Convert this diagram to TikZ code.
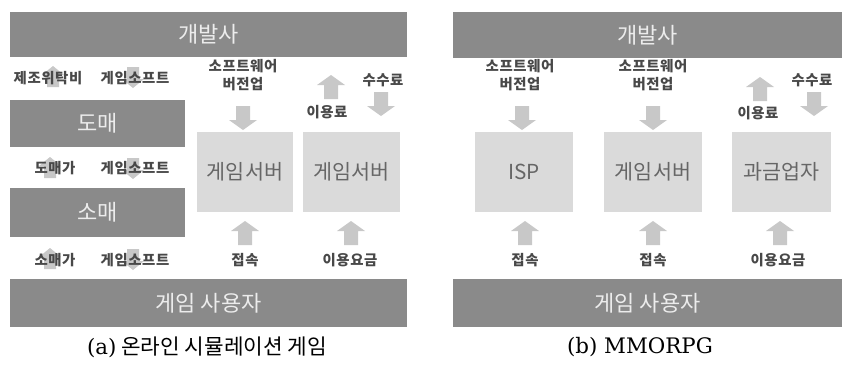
\documentclass[tikz,border=0pt]{standalone}
\usepackage{fontspec}
\newfontfamily\kr{Noto Sans CJK KR}
\newfontfamily\krl[LetterSpace=4]{Noto Sans CJK KR}
\newfontfamily\capserif{DejaVu Serif}
\definecolor{barfill}{HTML}{8A8A8A}
\definecolor{bartext}{HTML}{ECECEC}
\definecolor{boxfill}{HTML}{DADADA}
\definecolor{boxtext}{HTML}{666666}
\definecolor{arrfill}{HTML}{C8C8C8}
\definecolor{labtext}{HTML}{484848}
\begin{document}
\begin{tikzpicture}[x=0.75pt,y=-0.75pt,
  bar/.style={fill=barfill, draw=none, inner sep=0pt, text=bartext,
    font=\kr\fontsize{16.5}{19}\selectfont},
  sbox/.style={fill=boxfill, draw=none, inner sep=0pt, text=boxtext,
    minimum height={80*0.75pt}, font=\kr\fontsize{15.5}{18}\selectfont},
  lab/.style={text=labtext, inner sep=0pt, align=center,
    font=\krl\bfseries\fontsize{10.8}{13.5}\selectfont},
  captext/.style={text=black, inner sep=0pt, font=\kr\fontsize{16}{19}\selectfont},
  uparr/.pic={\fill[arrfill] (0,-12) -- (14,-2) -- (7,-2) -- (7,12) -- (-7,12) -- (-7,-2) -- (-14,-2) -- cycle;},
  dnarr/.pic={\fill[arrfill] (0,12) -- (14,2) -- (7,2) -- (7,-12) -- (-7,-12) -- (-7,2) -- (-14,2) -- cycle;},
  supa/.pic={\fill[arrfill] (0,-11) -- (11,-2) -- (6,-2) -- (6,10) -- (-6,10) -- (-6,-2) -- (-11,-2) -- cycle;},
  sdna/.pic={\fill[arrfill] (0,11) -- (11,2) -- (6,2) -- (6,-10) -- (-6,-10) -- (-6,2) -- (-11,2) -- cycle;},
]
\useasboundingbox (0,0) rectangle (846,365);
\fill[white] (0,0) rectangle (846,365);

% ---------------- (a) ----------------
\node[bar, minimum width={397*0.75pt}, minimum height={45*0.75pt}] (dev1) at (208.5,34.5) {개발사};
\node[bar, minimum width={175*0.75pt}, minimum height={47*0.75pt}] (whole) at (97.5,123.5) {도매};
\node[bar, minimum width={175*0.75pt}, minimum height={49*0.75pt}] (retail) at (97.5,212.5) {소매};
\node[bar, minimum width={397*0.75pt}, minimum height={48*0.75pt}] (user1) at (208.5,303) {게임 사용자};
\node[sbox, minimum width={96*0.75pt}] (srv1) at (245,172) {게임서버};
\node[sbox, minimum width={97*0.75pt}] (srv2) at (351.5,172) {게임서버};

\pic (a1) at (53,77) {supa};
\pic (a2) at (133,77) {sdna};
\pic (a3) at (50,168) {supa};
\pic (a4) at (133,168) {sdna};
\pic (a5) at (50,259) {supa};
\pic (a6) at (133,259) {sdna};
\pic (a7) at (243,118) {dnarr};
\pic (a8) at (331,87) {uparr};
\pic (a9) at (381,104) {dnarr};
\pic (a10) at (245,233) {uparr};
\pic (a11) at (351,233) {uparr};

\node[lab] (l1) at (48,78) {제조위탁비};
\node[lab] (l2) at (135,78) {게임소프트};
\node[lab] (l3) at (55,168) {도매가};
\node[lab] (l4) at (135,168) {게임소프트};
\node[lab] (l5) at (55,260) {소매가};
\node[lab] (l6) at (135,260) {게임소프트};
\node[lab] (sw1) at (243,75) {소프트웨어\\버전업};
\node[lab] (fee1) at (327,112) {이용료};
\node[lab] (com1) at (383,80) {수수료};
\node[lab] (con1) at (245,260) {접속};
\node[lab] (pay1) at (350,260) {이용요금};
\node[captext] (capa) at (207,347) {{\capserif (a)} 온라인 시뮬레이션 게임};

% ---------------- (b) ----------------
\node[bar, minimum width={389*0.75pt}, minimum height={46*0.75pt}] (dev2) at (647.5,35) {개발사};
\node[bar, minimum width={389*0.75pt}, minimum height={48*0.75pt}] (user2) at (647.5,303) {게임 사용자};
\node[sbox, minimum width={98*0.75pt}] (isp) at (524,172) {ISP};
\node[sbox, minimum width={98*0.75pt}] (srv3) at (653,172) {게임서버};
\node[sbox, minimum width={99*0.75pt}] (bill) at (781.5,172) {과금업자};

\pic (b1) at (522,118) {dnarr};
\pic (b2) at (653,118) {dnarr};
\pic (b3) at (760,89) {uparr};
\pic (b4) at (814,104) {dnarr};
\pic (b5) at (525,233) {uparr};
\pic (b6) at (653,233) {uparr};
\pic (b7) at (780,233) {uparr};

\node[lab] (sw2) at (520,75) {소프트웨어\\버전업};
\node[lab] (sw3) at (653,75) {소프트웨어\\버전업};
\node[lab] (fee2) at (758,113) {이용료};
\node[lab] (com2) at (812,80) {수수료};
\node[lab] (con2) at (525,260) {접속};
\node[lab] (con3) at (653,260) {접속};
\node[lab] (pay2) at (778,260) {이용요금};
\node[captext] (capb) at (640,347) {{\capserif (b) MMORPG}};
\end{tikzpicture}
\end{document}
